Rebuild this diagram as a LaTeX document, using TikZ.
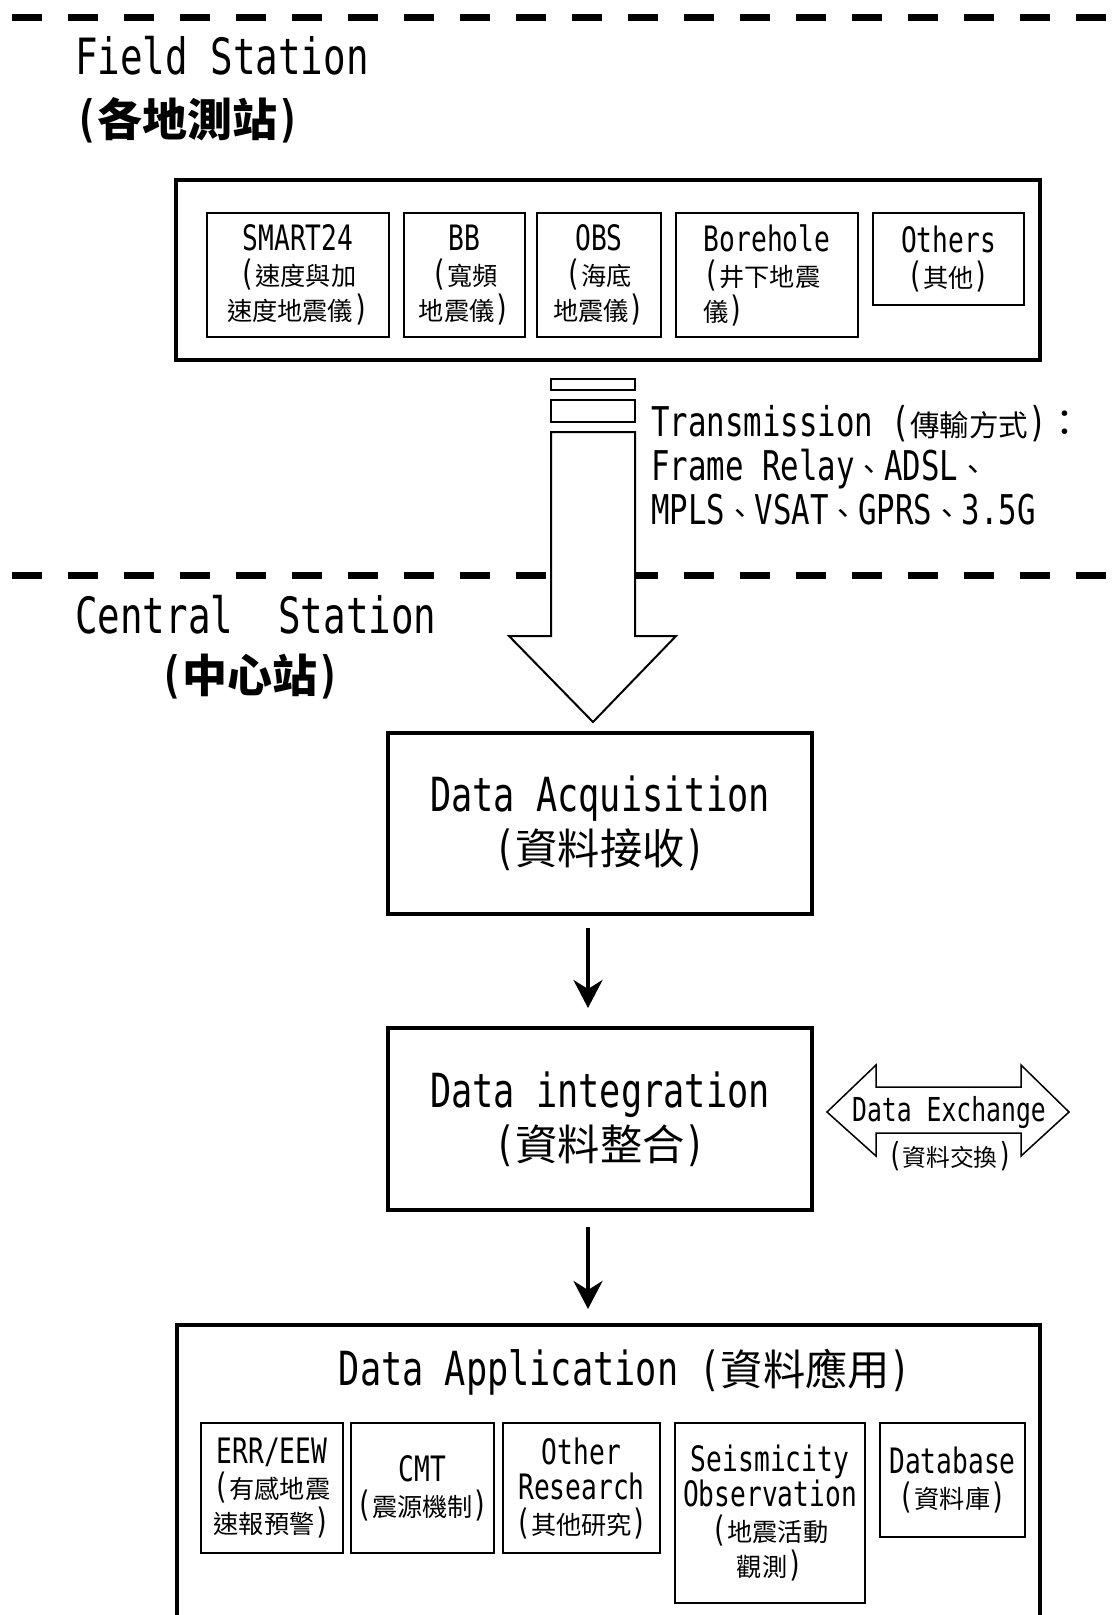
\documentclass[tikz,border=0pt]{standalone}
\usepackage{fontspec}
\setmainfont{DejaVu Sans Mono}[FakeStretch=0.75]
\newfontfamily\cjk{Noto Sans CJK TC}[Scale=0.9]
\newfontfamily\cjksm{Noto Sans CJK TC}[Scale=0.72]
\newcommand{\zh}[1]{{\cjk #1}}
\newcommand{\zhs}[1]{{\cjksm #1}}
\usetikzlibrary{arrows.meta}

\begin{document}
\begin{tikzpicture}[x=1pt, y=-1pt,
                    divider/.style={line width=7pt, dash pattern=on 30pt off 26pt},
                    panel/.style={draw, line width=4pt, inner sep=0pt},
                    unit/.style={draw, line width=2pt, inner sep=2pt, align=center,
                                 font=\fontsize{35}{35}\selectfont},
                    bigtext/.style={align=center, font=\fontsize{47}{53}\selectfont},
                    heading/.style={anchor=base west, inner sep=0pt,
                                    font=\fontsize{50}{50}\selectfont},
                    flow/.style={line width=4pt, -{Stealth[length=28pt, width=29pt, inset=9pt]}},
                    hollow/.style={draw, fill=white, line width=2pt, line join=miter}]
\useasboundingbox (0,0) rectangle (1112,1615);

\draw[divider] (12,17) -- (1112,17);
\draw[divider] (12,575) -- (1112,575);

\node[heading] (fieldtitle) at (75,74) {Field Station};
\node[heading, font=\fontsize{50}{50}\selectfont\bfseries] (fieldzh) at (75,136) {(\zh{各地測站})};

\node[panel, minimum width=864pt, minimum height=180pt] (field) at (608,270) {};
\node[unit, minimum width=182pt, minimum height=124pt] (smart) at (298,275) {SMART24\\(\zhs{速度與加}\\\zhs{速度地震儀})};
\node[unit, minimum width=121pt, minimum height=124pt] (bb) at (464.5,275) {BB\\(\zhs{寬頻}\\\zhs{地震儀})};
\node[unit, minimum width=124pt, minimum height=124pt] (obs) at (599,275) {OBS\\(\zhs{海底}\\\zhs{地震儀})};
\node[unit, align=left, minimum width=182pt, minimum height=124pt] (bore) at (767,275) {Borehole\\(\zhs{井下地震}\\\zhs{儀})};
\node[unit, minimum width=151pt, minimum height=92pt] (others) at (948.5,259) {Others\\(\zhs{其他})};

\draw[hollow] (551,379) rectangle (635,390);
\draw[hollow] (551,400) rectangle (635,422);
\draw[hollow] (551,432) -- (551,636) -- (509,636) -- (593,722) -- (676,636) -- (635,636) -- (635,432) -- cycle;

\node[anchor=north west, align=left, inner sep=0pt, font=\fontsize{41}{44}\selectfont] (trans) at (651,405)
  {Transmission (\zhs{傳輸方式})\zh{：}\\Frame Relay\zhs{、}ADSL\zhs{、}\\MPLS\zhs{、}VSAT\zhs{、}GPRS\zhs{、}3.5G};

\node[heading] (centraltitle) at (75,633) {Central\ \ Station};
\node[heading, font=\fontsize{50}{50}\selectfont\bfseries] (centralzh) at (160,692) {(\zh{中心站})};

\node[panel, bigtext, minimum width=424pt, minimum height=181pt] (acq) at (600,823.5) {Data Acquisition\\(\zh{資料接收})};
\node[panel, bigtext, minimum width=424pt, minimum height=182pt] (integ) at (600,1119) {Data integration\\(\zh{資料整合})};

\draw[hollow, line width=1.5pt] (827,1112) -- (876,1065) -- (876,1087) -- (1021,1087) -- (1021,1065) -- (1069,1112)
  -- (1021,1156) -- (1021,1133) -- (876,1133) -- (876,1156) -- cycle;
\node[inner sep=0pt, font=\fontsize{33}{33}\selectfont] (xchg) at (949,1112) {Data Exchange};
\node[inner sep=0pt, font=\fontsize{33}{33}\selectfont] (xchgzh) at (950,1156) {(\zhs{資料交換})};

\node[panel, minimum width=863pt, minimum height=400pt, anchor=north] (app) at (608.5,1323) {};
\node[bigtext] (apptitle) at (625,1372) {Data Application (\zh{資料應用})};
\node[unit, anchor=north, minimum width=142pt, minimum height=130pt] (err) at (272,1422) {ERR/EEW\\(\zhs{有感地震}\\\zhs{速報預警})};
\node[unit, anchor=north, minimum width=143pt, minimum height=130pt] (cmt) at (422.5,1422) {CMT\\(\zhs{震源機制})};
\node[unit, anchor=north, minimum width=157pt, minimum height=130pt] (research) at (581.5,1422) {Other\\Research\\(\zhs{其他研究})};
\node[unit, anchor=north, minimum width=190pt, minimum height=180pt] (seis) at (770,1422) {Seismicity\\Observation\\(\zhs{地震活動}\\\zhs{觀測})};
\node[unit, anchor=north, minimum width=145pt, minimum height=114pt] (db) at (952.5,1422) {Database\\(\zhs{資料庫})};

\draw[flow, shorten <=12pt, shorten >=18pt] ([xshift=-12pt]acq.south) -- ([xshift=-12pt]integ.north);
\draw[flow, shorten <=15pt, shorten >=14pt] ([xshift=-12pt]integ.south) -- ([xshift=-12pt]integ.south |- app.north);
\end{tikzpicture}
\end{document}
